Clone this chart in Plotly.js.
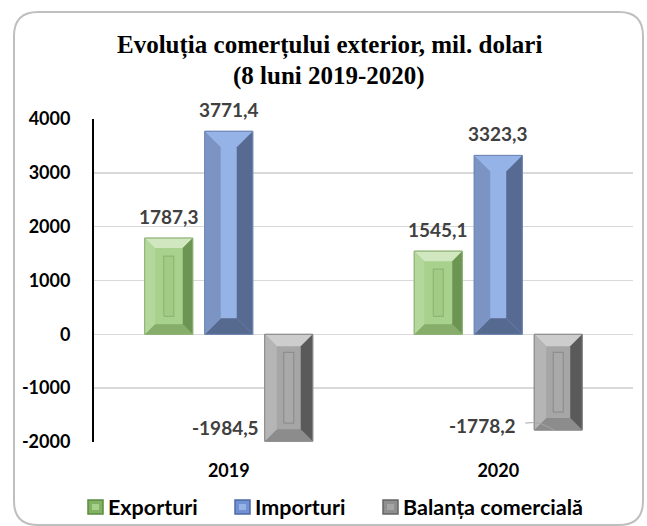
<!DOCTYPE html>
<html><head><meta charset="utf-8">
<script src="https://cdn.plot.ly/plotly-3.0.1.min.js"></script>
<style>html,body{margin:0;padding:0;background:#fff}#chart{width:647px;height:526px}</style>
</head><body><div id="chart"></div>
<script>
// ---- data ----
const categories = ['2019', '2020'];
const seriesNames = ['Exporturi', 'Importuri', 'Balanța comercială'];
const exporturi = [1787.3, 1545.1];
const importuri = [3771.4, 3323.3];
const balanta = [-1984.5, -1778.2];
const yTicks = [-2000, -1000, 0, 1000, 2000, 3000, 4000];
const titleLines = ['Evoluția comerțului exterior, mil. dolari', '(8 luni 2019-2020)'];

// ---- layout constants ----
const W = 647, H = 526;
const M = {l: 94, r: 14, t: 119, b: 84, autoexpand: false};
const plotW = W - M.l - M.r, plotH = H - M.t - M.b;
const xRange = [-0.5, 1.5], yRange = [-2000, 4000];
const kx = (xRange[1] - xRange[0]) / plotW;   // data units per px
const ky = (yRange[1] - yRange[0]) / plotH;
const px2x = p => (p - M.l) / plotW, px2y = p => (H - M.b - p) / plotH;

const seriesValues = [exporturi, importuri, balanta];
const offPx = [-60, 0, 60];
const halfPx = 24;
const styles = [
  {base: '#a9d18e', top: '#d0e7bf', left: '#b4d89c', right: '#6c9452', bottom: '#86ad6a', line: '#8fb276', d: 10, stripe: true, stripeFill: '#a2cb86', stripeLine: '#8db772',
   legFill: '#80b262', legLine: '#5a8a40'},
  {base: '#95b3e7', top: '#95b3e7', left: '#7c94c3', right: '#566a92', bottom: '#56698f', line: '#6f86b3', d: 16, stripe: false,
   legFill: '#7092d2', legLine: '#4c6aa6'},
  {base: '#a6a6a6', top: '#cdcdcd', left: '#b5b5b5', right: '#5a5a5a', bottom: '#8c8c8c', line: '#8a8a8a', d: 12, stripe: true, stripeFill: '#a9a9a9', stripeLine: '#8e8e8e',
   legFill: '#8f8f8f', legLine: '#666666'}
];
const font = 'Lato, "Open Sans", sans-serif';
const fmt = v => v.toFixed(1).replace('.', ',');

const traces = [];
seriesValues.forEach((vals, s) => {
  traces.push({
    type: 'bar', name: seriesNames[s], x: categories.map((c, i) => i), y: vals,
    width: 2 * halfPx * kx, offset: (offPx[s] - halfPx) * kx,
    marker: {color: styles[s].base, line: {color: styles[s].line, width: 1}},
    hoverinfo: 'skip', showlegend: false
  });
});
function poly(xs, ys, color) {
  traces.push({type: 'scatter', mode: 'lines', x: xs.concat([xs[0]]), y: ys.concat([ys[0]]),
    fill: 'toself', fillcolor: color, line: {width: 0, color: color}, hoverinfo: 'skip', showlegend: false});
}
seriesValues.forEach((vals, s) => {
  const st = styles[s];
  vals.forEach((v, i) => {
    const xc = i + offPx[s] * kx;
    const L = xc - halfPx * kx, R = xc + halfPx * kx;
    const T = Math.max(0, v), B = Math.min(0, v);
    const dx = st.d * kx, dy = st.d * ky;
    poly([L + dx, R - dx, R - dx, L + dx], [B + dy, B + dy, T - dy, T - dy], st.base);
    poly([L, R, R - dx, L + dx], [T, T, T - dy, T - dy], st.top);
    poly([L, R, R - dx, L + dx], [B, B, B + dy, B + dy], st.bottom);
    poly([L, L, L + dx, L + dx], [B, T, T - dy, B + dy], st.left);
    poly([R, R, R - dx, R - dx], [B, T, T - dy, B + dy], st.right);
    if (st.stripe) {
      const sw = 5 * kx, sy = 18 * ky;
      traces.push({type: 'scatter', mode: 'lines', x: [xc - sw, xc + sw, xc + sw, xc - sw, xc - sw],
        y: [B + sy, B + sy, T - sy, T - sy, B + sy], fill: 'toself', fillcolor: st.stripeFill,
        line: {width: 1.2, color: st.stripeLine}, hoverinfo: 'skip', showlegend: false});
    }
    traces.push({type: 'scatter', mode: 'lines', x: [L, R, R, L, L], y: [B, B, T, T, B],
      line: {width: 1, color: st.line}, hoverinfo: 'skip', showlegend: false});
  });
});

// leader line for the 2020 balance label
{
  const v = balanta[1];
  const xc = 1 + offPx[2] * kx;
  traces.push({type: 'scatter', mode: 'lines',
    x: [xc - 33 * kx, xc - 20 * kx, xc - 4 * kx], y: [v + 7 * ky, v + 7 * ky, v],
    line: {width: 1, color: '#a6a6a6', shape: 'spline'}, hoverinfo: 'skip', showlegend: false});
}

// data labels
const labelFont = {family: font, size: 19, weight: 700, color: '#404040'};
const negLabelShift = [[-4, 14], [-16, 5]];   // [xshift, yshift] px for negative labels
const annotations = [];
seriesValues.forEach((vals, s) => {
  vals.forEach((v, i) => {
    const xc = i + offPx[s] * kx;
    if (v >= 0) {
      annotations.push({x: xc, y: v, xref: 'x', yref: 'y', text: fmt(v), showarrow: false,
        yanchor: 'middle', yshift: 22, font: labelFont});
    } else {
      annotations.push({x: xc - halfPx * kx, y: v, xref: 'x', yref: 'y', text: fmt(v), showarrow: false,
        xanchor: 'right', yanchor: 'middle', xshift: negLabelShift[i][0], yshift: negLabelShift[i][1], font: labelFont});
    }
  });
});
// title (two lines, tight spacing)
const titleFont = {family: '"Liberation Serif", "Times New Roman", serif', size: 25, weight: 700, color: '#000'};
[45, 76].forEach((py, k) => {
  annotations.push({xref: 'paper', yref: 'paper', x: px2x(329), y: px2y(py), xanchor: 'center', yanchor: 'middle',
    text: titleLines[k], showarrow: false, font: titleFont});
});
// legend (custom, tight marker/text spacing)
const legendMarkerX = [88, 235, 383];
const legendY = 507;
const legendFont = {family: font, size: 21.5, weight: 700, color: '#000'};
const shapes = [];
seriesNames.forEach((n, s) => {
  const mx = legendMarkerX[s];
  shapes.push({type: 'rect', xref: 'paper', yref: 'paper', x0: px2x(mx), x1: px2x(mx + 15),
    y0: px2y(legendY + 7), y1: px2y(legendY - 7), fillcolor: styles[s].legFill, line: {color: styles[s].legLine, width: 1.5}});
  shapes.push({type: 'rect', xref: 'paper', yref: 'paper', x0: px2x(mx + 4), x1: px2x(mx + 11),
    y0: px2y(legendY + 3), y1: px2y(legendY - 3), fillcolor: styles[s].base, line: {width: 0}});
  annotations.push({xref: 'paper', yref: 'paper', x: px2x(mx + 18), y: px2y(legendY), xanchor: 'left', yanchor: 'middle',
    text: n, showarrow: false, font: legendFont});
});

// rounded border
const bx0 = 14, bx1 = 643, by0 = 12, by1 = 525, rr = 24;
const borderPath = `M ${px2x(bx0 + rr)},${px2y(by0)} L ${px2x(bx1 - rr)},${px2y(by0)} Q ${px2x(bx1)},${px2y(by0)} ${px2x(bx1)},${px2y(by0 + rr)} L ${px2x(bx1)},${px2y(by1 - rr)} Q ${px2x(bx1)},${px2y(by1)} ${px2x(bx1 - rr)},${px2y(by1)} L ${px2x(bx0 + rr)},${px2y(by1)} Q ${px2x(bx0)},${px2y(by1)} ${px2x(bx0)},${px2y(by1 - rr)} L ${px2x(bx0)},${px2y(by0 + rr)} Q ${px2x(bx0)},${px2y(by0)} ${px2x(bx0 + rr)},${px2y(by0)} Z`;
shapes.unshift({type: 'path', xref: 'paper', yref: 'paper', path: borderPath, line: {color: '#bfbfbf', width: 2}, layer: 'below'});

const layout = {
  width: W, height: H, margin: M, paper_bgcolor: '#fff', plot_bgcolor: '#fff',
  barmode: 'overlay', showlegend: false,
  xaxis: {range: xRange, tickvals: categories.map((c, i) => i), ticktext: categories,
    showgrid: false, zeroline: false, showline: false, ticks: '', ticklabelstandoff: 16,
    tickfont: {family: font, size: 18, weight: 700, color: '#000'}, fixedrange: true},
  yaxis: {range: yRange, tickvals: yTicks, ticktext: yTicks.map(String), showgrid: true,
    gridcolor: '#d9d9d9', gridwidth: 1.5, zeroline: false, showline: true, linecolor: '#000', linewidth: 2,
    ticks: '', ticklabelstandoff: 18, tickfont: {family: font, size: 18, weight: 700, color: '#000'}, fixedrange: true},
  annotations: annotations,
  shapes: shapes
};
Plotly.newPlot('chart', traces, layout, {displayModeBar: false, staticPlot: true});
</script></body></html>
